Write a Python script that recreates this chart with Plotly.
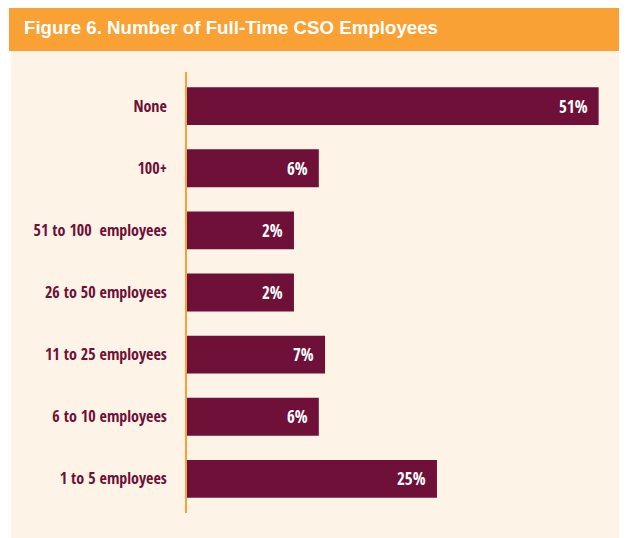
import plotly.graph_objects as go

categories = ["None", "100+", "51 to 100  employees", "26 to 50 employees",
              "11 to 25 employees", "6 to 10 employees", "1 to 5 employees"]
values = [51, 6, 2, 2, 7, 6, 25]
value_labels = ["51%", "6%", "2%", "2%", "7%", "6%", "25%"]
title_text = "Figure 6. Number of Full-Time CSO Employees"

AXIS_START = -15.2  # the value axis in the original starts below zero

MAROON = "#6E1038"
ORANGE = "#F9A134"
CREAM = "#FDF3E6"
LABEL_FONT = "Open Sans Condensed, Roboto Condensed, sans-serif"

OFF = 8  # page body margin
W, H = 627 - OFF, 538 - OFF
ML, MR, MT, MB = 187 - OFF, 20, 72 - OFF, 25
PW, PH = W - ML - MR, H - MT - MB


def px_x(p):
    return (p - OFF - ML) / PW


def px_y(p):
    return 1 - (p - OFF - MT) / PH


fig = go.Figure()
fig.add_trace(go.Bar(
    y=categories,
    x=[v - AXIS_START for v in values],
    base=AXIS_START,
    orientation="h",
    marker=dict(color=MAROON, line=dict(width=0)),
    width=0.61,
    hoverinfo="skip",
))

annotations = []
for cat, v, lab in zip(categories, values, value_labels):
    annotations.append(dict(
        x=v, y=cat, xref="x", yref="y", text=lab, showarrow=False,
        xanchor="right", yanchor="middle", xshift=-9,
        font=dict(family=LABEL_FONT, size=17, color="white", weight="bold"),
    ))
annotations.append(dict(
    x=px_x(22), y=px_y(27), xref="paper", yref="paper", text=title_text,
    showarrow=False, xanchor="left", yanchor="middle",
    font=dict(family="Liberation Sans", size=18.7, color="white", weight="bold"),
))

shapes = [
    dict(type="rect", xref="paper", yref="paper", layer="below",
         x0=px_x(11), x1=px_x(660), y0=px_y(560), y1=px_y(51),
         fillcolor=CREAM, line=dict(width=0)),
    dict(type="rect", xref="paper", yref="paper", layer="below",
         x0=px_x(9), x1=px_x(660), y0=px_y(51), y1=px_y(3),
         fillcolor=ORANGE, line=dict(width=0)),
]

fig.update_layout(
    width=W, height=H,
    margin=dict(l=ML, r=MR, t=MT, b=MB),
    paper_bgcolor="white",
    plot_bgcolor="rgba(0,0,0,0)",
    showlegend=False,
    shapes=shapes,
    annotations=annotations,
    xaxis=dict(range=[AXIS_START, AXIS_START + PW / 6.218], showgrid=False,
               zeroline=False, showticklabels=False, showline=False, fixedrange=True),
    yaxis=dict(categoryorder="array", categoryarray=categories,
               range=[6.55, -0.55], showgrid=False, zeroline=False,
               showline=True, linecolor=ORANGE, linewidth=2,
               ticks="", ticklabelstandoff=15,
               tickfont=dict(family=LABEL_FONT, size=16, color=MAROON, weight="bold"),
               fixedrange=True),
)

fig.write_html("out.html")
